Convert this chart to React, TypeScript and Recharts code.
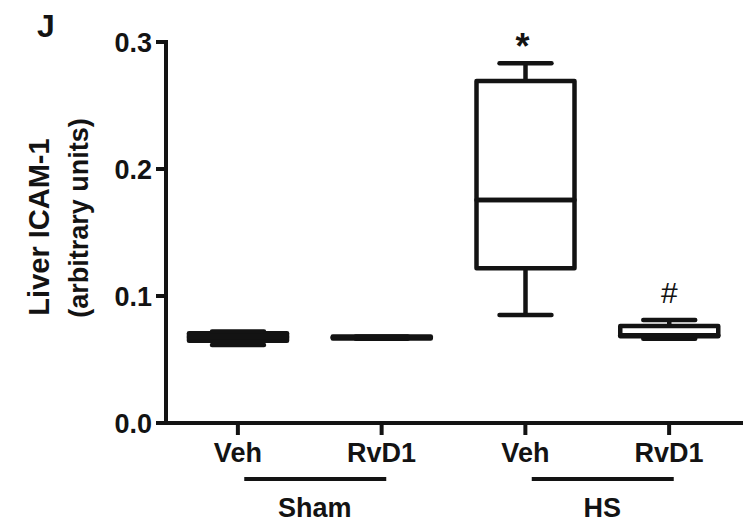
import React from "react";
import { ComposedChart, Bar, XAxis, YAxis, Label, LabelList } from "recharts";

// values
const groups = ["Sham", "Sham", "HS", "HS"];
const treatments = ["Veh", "RvD1", "Veh", "RvD1"];
const mins = [0.0614, 0.0664, 0.085, 0.0664];
const q1s = [0.0647, 0.0665, 0.1218, 0.0683];
const medians = [0.0677, 0.0673, 0.1756, 0.069];
const q3s = [0.0707, 0.0681, 0.2693, 0.0764];
const maxs = [0.072, 0.0682, 0.2832, 0.0811];
const marks = ["", "", "*", "#"];
const yTicks = [0, 0.1, 0.2, 0.3];

const INK = "#131313";
const FONT = "'Liberation Sans', Arial, sans-serif";
const SW = 4.5;

// stacked segments: base -> low whisker -> lower box -> upper box -> high whisker
const data = groups.map((g, i) => ({
  slot: `${g} ${treatments[i]}`,
  group: g,
  base: mins[i],
  lowWhisker: q1s[i] - mins[i],
  lowBox: medians[i] - q1s[i],
  highBox: q3s[i] - medians[i],
  highWhisker: maxs[i] - q3s[i],
  mark: marks[i],
}));

const Empty = () => <g />;

const whisker = (capAtTop: boolean) => (props: any) => {
  const { x, y, width, height } = props;
  const cx = x + width / 2;
  const capY = capAtTop ? y : y + height;
  const half = width * 0.265;
  return (
    <g>
      <line x1={cx} x2={cx} y1={y} y2={y + height} stroke={INK} strokeWidth={SW} />
      <line x1={cx - half} x2={cx + half} y1={capY} y2={capY} stroke={INK} strokeWidth={SW} strokeLinecap="round" />
    </g>
  );
};

const BoxPart = (props: any) => {
  const { x, y, width, height } = props;
  return (
    <rect x={x} y={y} width={width} height={Math.max(height, 0)} fill="none" stroke={INK} strokeWidth={SW} strokeLinejoin="round" />
  );
};

const SigMark = (props: any) => {
  const { x, y, width, value } = props;
  if (!value) return null;
  const star = value === "*";
  return (
    <text
      x={x + width / 2 + (star ? -3 : 0)}
      y={y - (star ? 4 : 17)}
      textAnchor="middle"
      fontFamily={FONT}
      fontSize={star ? 36 : 30}
      fontWeight={star ? "bold" : "normal"}
      fill={INK}
    >
      {value}
    </text>
  );
};

const GroupTick = (props: any) => {
  const { x, y, payload } = props;
  return (
    <g>
      <line x1={x - 65.5} x2={x + 76.5} y1={y + 6} y2={y + 6} stroke={INK} strokeWidth={4} />
      <text x={x + 5} y={y + 44} textAnchor="middle" fontFamily={FONT} fontSize={27} fontWeight="bold" fill={INK}>
        {payload.value}
      </text>
    </g>
  );
};

const YTitle = () => (
  <g fontFamily={FONT} fontWeight="bold" fill={INK}>
    <text transform="translate(49, 227) rotate(-90)" textAnchor="middle" fontSize={29}>
      Liver ICAM-1
    </text>
    <text transform="translate(88, 218) rotate(-90)" textAnchor="middle" fontSize={27}>
      (arbitrary units)
    </text>
  </g>
);

export default function App() {
  const tickStyle = { fontSize: 27, fontWeight: "bold", fill: INK, fontFamily: FONT };
  const lineStyle = { stroke: INK, strokeWidth: 4 };

  return (
    <div style={{ position: "relative", width: 750, height: 528, background: "#fff" }}>
      <style>{"body{margin:0}"}</style>
      <div
        style={{
          position: "absolute",
          left: 37,
          top: 8,
          fontFamily: FONT,
          fontWeight: "bold",
          fontSize: 32,
          color: INK,
          lineHeight: "36px",
        }}
      >
        J
      </div>
      <ComposedChart width={750} height={528} data={data} margin={{ top: 42, right: 9, bottom: 0, left: 0 }} barSize={98}>
        <XAxis
          xAxisId="cat"
          dataKey="slot"
          height={50}
          tickFormatter={(v: string) => v.split(" ")[1]}
          tick={tickStyle}
          tickSize={12}
          tickMargin={8}
          tickLine={lineStyle}
          axisLine={{ ...lineStyle, strokeLinecap: "square" }}
          interval={0}
        />
        <XAxis
          xAxisId="grp"
          dataKey="group"
          allowDuplicatedCategory={false}
          height={55}
          tick={<GroupTick />}
          tickSize={0}
          tickMargin={0}
          tickLine={false}
          axisLine={false}
          interval={0}
        />
        <YAxis
          width={166}
          domain={[0, 0.3]}
          ticks={yTicks}
          tickFormatter={(v: number) => v.toFixed(1)}
          tick={tickStyle}
          tickSize={10}
          tickMargin={4}
          tickLine={lineStyle}
          axisLine={{ ...lineStyle, strokeLinecap: "square" }}
        >
          <Label content={<YTitle />} />
        </YAxis>
        <Bar xAxisId="cat" dataKey="base" stackId="box" shape={<Empty />} isAnimationActive={false} />
        <Bar xAxisId="cat" dataKey="lowWhisker" stackId="box" shape={whisker(false)} isAnimationActive={false} />
        <Bar xAxisId="cat" dataKey="lowBox" stackId="box" shape={BoxPart} isAnimationActive={false} />
        <Bar xAxisId="cat" dataKey="highBox" stackId="box" shape={BoxPart} isAnimationActive={false} />
        <Bar xAxisId="cat" dataKey="highWhisker" stackId="box" shape={whisker(true)} isAnimationActive={false}>
          <LabelList dataKey="mark" content={<SigMark />} />
        </Bar>
      </ComposedChart>
    </div>
  );
}
